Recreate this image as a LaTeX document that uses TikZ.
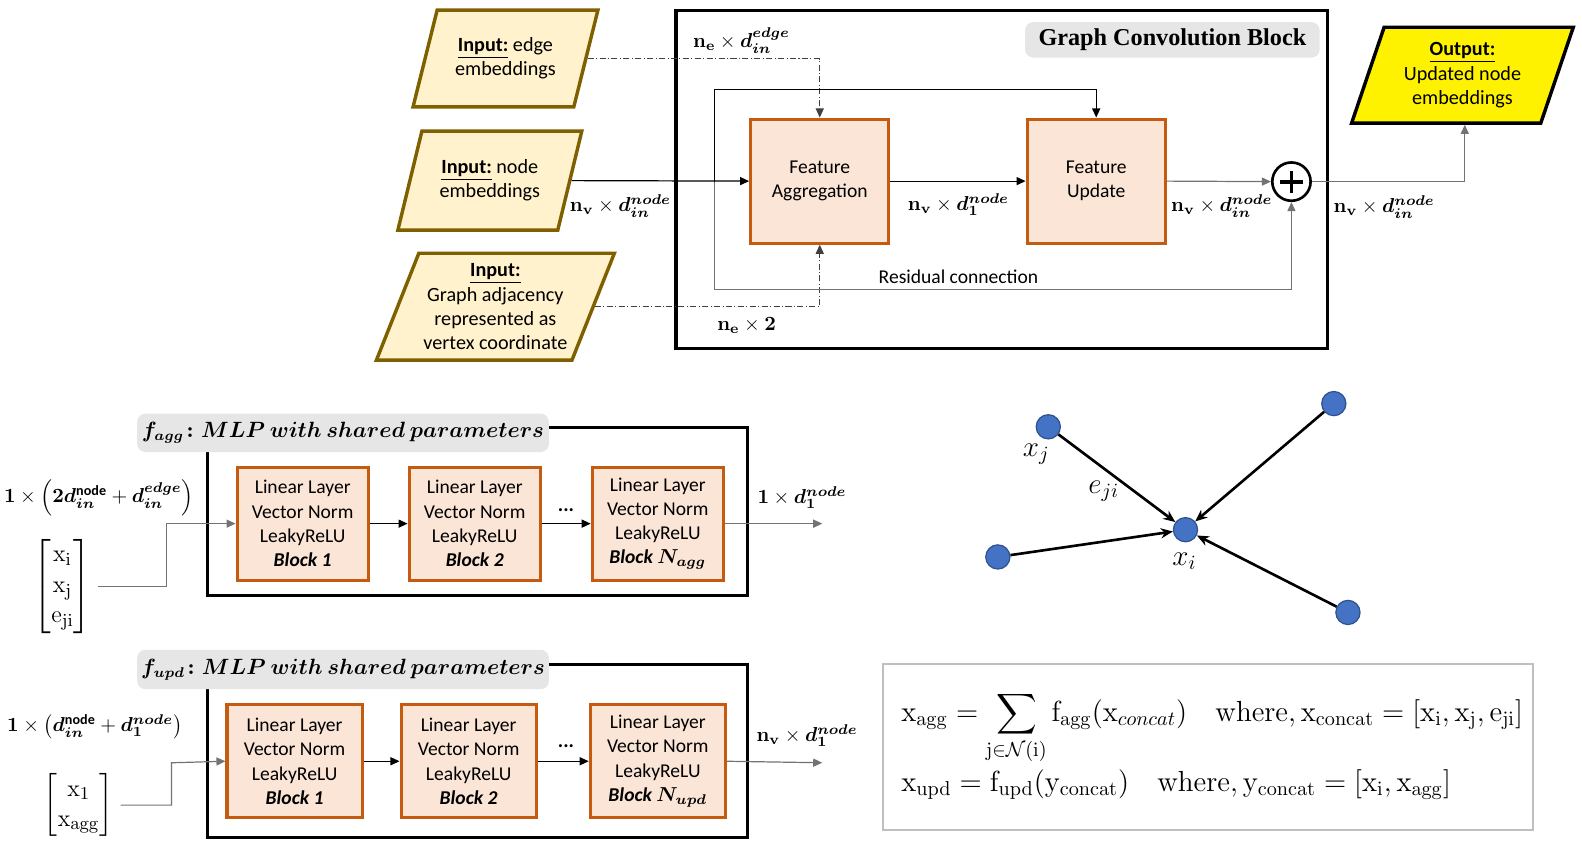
\documentclass[tikz,border=0pt]{standalone}
\usepackage{amsmath,amssymb}
\usepackage{bm}
\usepackage[no-math]{fontspec}
\setmainfont{Carlito}
\newfontfamily\headfont{Liberation Serif}
\usetikzlibrary{shapes.geometric,arrows.meta,positioning,calc}
\definecolor{inborder}{RGB}{127,96,0}
\definecolor{infill}{RGB}{255,242,204}
\definecolor{blkborder}{RGB}{197,90,17}
\definecolor{blkfill}{RGB}{251,229,214}
\definecolor{tagfill}{RGB}{231,230,230}
\definecolor{vtxfill}{RGB}{68,114,196}
\definecolor{vtxborder}{RGB}{47,82,143}

\begin{document}
\begin{tikzpicture}[x=0.5pt, y=-0.5pt,
    inpara/.style={trapezium, trapezium left angle=68, trapezium right angle=112, trapezium stretches=true,
        draw=inborder, fill=infill, line width=1.7pt, align=center, inner sep=1pt, font=\fontsize{10}{12}\selectfont},
    outpara/.style={inpara, fill=yellow, draw=black},
    featbox/.style={rectangle, draw=blkborder, fill=blkfill, line width=1.5pt, minimum width=68.5pt, minimum height=61.5pt,
        align=center, font=\fontsize{9.7}{12}\selectfont},
    mlpbox/.style={featbox, minimum width=65pt, minimum height=56pt},
    frame/.style={rectangle, draw=black, line width=1.5pt, inner sep=0pt},
    tag/.style={rectangle, rounded corners=4pt, fill=tagfill, inner sep=0pt},
    dimlbl/.style={font=\fontsize{10}{12}\selectfont},
    arr/.style={-{Triangle[length=4.5pt,width=4pt]}, line width=0.6pt},
    arrgray/.style={arr, black!55},
    dashdot/.style={-{Triangle[length=4.5pt,width=4pt]}, line width=0.5pt, black!75,
        dash pattern=on 3pt off 1.2pt on 0.5pt off 1.2pt},
    vtx/.style={circle, fill=vtxfill, draw=vtxborder, line width=0.6pt, minimum size=12pt, inner sep=0pt},
    edgearr/.style={-{Stealth[length=6pt,width=5pt]}, line width=1.3pt}
]
    \useasboundingbox (0,0) rectangle (1568,837);

    % Graph convolution block
    \node[frame, minimum width=323pt, minimum height=167.5pt] (gcb) at (993,177.5) {};
    \node[tag, minimum width=146pt, minimum height=17.5pt, font=\headfont\fontsize{12}{14}\selectfont\bfseries] (gcbtag) at (1162,39.5) {Graph Convolution Block};

    % Inputs and output
    \node[inpara, minimum width=92pt, minimum height=48pt] (ein) at (501,58) {\underline{\textbf{Input:}} edge\\embeddings};
    \node[inpara, minimum width=91.5pt, minimum height=49pt] (nin) at (485.5,179) {\underline{\textbf{Input:}} node\\embeddings};
    \node[inpara, trapezium left angle=65.5, trapezium right angle=114.5, minimum width=118pt, minimum height=53pt] (adj) at (491,304)
        {\underline{\textbf{Input:}}\\Graph adjacency\\represented as\\vertex coordinate};
    \node[outpara, trapezium left angle=70, trapezium right angle=110, minimum width=110.5pt, minimum height=47.5pt] (out) at (1449.5,74.5)
        {\underline{\textbf{Output:}}\\Updated node\\embeddings};

    % Feature boxes
    \node[featbox] (fa) at (812.5,179.5) {Feature\\Aggregation};
    \node[featbox] (fu) at (1086.5,179.5) {Feature\\Update};
    \node[circle, draw, line width=1.3pt, minimum size=19pt, inner sep=0pt] (plus) at (1280,180) {};
    \draw[line width=1.9pt] ([xshift=-5.5pt]plus.center) -- ([xshift=5.5pt]plus.center);
    \draw[line width=1.9pt] ([yshift=-5.5pt]plus.center) -- ([yshift=5.5pt]plus.center);
    \coordinate (split) at (708,180);

    % Connections
    \draw[arr] (nin.right side) -- (fa.west);
    \draw[dashdot] (ein.right side) -| (fa.north);
    \draw[dashdot] (adj.right side) -| (fa.south);
    \draw[arr] (split) -- ++(0,-91) -| (fu.north);
    \draw[arrgray] (split) -- ++(0,107) -| (plus.south);
    \draw[arr] (fa.east) -- (fu.west);
    \draw[arrgray] (fu.east) -- (plus.west);
    \draw[arrgray] (plus.east) -| ([xshift=9.5pt]out.bottom side);

    \node[dimlbl] (lein) at (735,40) {$\mathbf{n_e}\times\bm{d_{in}^{edge}}$};
    \node[dimlbl] (ladj) at (740,323) {$\mathbf{n_e}\times\mathbf{2}$};
    \node[dimlbl] (lnin) at (615,204) {$\mathbf{n_v}\times\bm{d_{in}^{node}}$};
    \node[dimlbl] (lfa) at (950,203) {$\mathbf{n_v}\times\bm{d_1^{node}}$};
    \node[dimlbl] (lfu) at (1211,204) {$\mathbf{n_v}\times\bm{d_{in}^{node}}$};
    \node[dimlbl] (lout) at (1372,205) {$\mathbf{n_v}\times\bm{d_{in}^{node}}$};
    \node[font=\fontsize{9.7}{12}\selectfont] (lres) at (950,274) {Residual connection};

    % f_agg MLP
    \node[frame, minimum width=267.5pt, minimum height=83pt] (aggframe) at (473.5,507) {};
    \node[tag, minimum width=204pt, minimum height=19pt, font=\fontsize{10.6}{13}\selectfont] (aggtag) at (340,429)
        {$\bm{f_{agg}\colon MLP\ with\ shared\ parameters}$};
    \foreach \nm/\xx/\tg in {a1/300/1, a2/470.5/2, a3/652/{$\bm{N_{agg}}$}}
        \node[mlpbox] (\nm) at (\xx,519) {Linear Layer\\Vector Norm\\LeakyReLU\\\textbf{\textit{Block \tg}}};
    \draw[arr] (a1) -- (a2);
    \draw[arr] (a2) -- (a3);
    \node (adots) at (561,506) {\textbf{...}};
    \node[font=\fontsize{13}{15}\selectfont] (aggvec) at (62,581)
        {$\begin{bmatrix}\mathrm{x_i}\\ \mathrm{x_j}\\ \mathrm{e_{ji}}\end{bmatrix}$};
    \coordinate (aggin) at (165,519);
    \coordinate (aggout) at (815,519);
    \draw[arrgray] (aggvec.east) -| (aggin) -- (a1.west);
    \draw[arrgray] (a3.east) -- (aggout);
    \node[dimlbl] (laggin) at (98,493) {$\mathbf{1}\times\left(\mathbf{2}\bm{d}_{\bm{in}}^{\textbf{node}}+\bm{d_{in}^{edge}}\right)$};
    \node[dimlbl] (laggout) at (795,493) {$\mathbf{1}\times\bm{d_1^{node}}$};

    % f_upd MLP
    \node[frame, minimum width=267.5pt, minimum height=85.5pt] (updframe) at (473.5,744.5) {};
    \node[tag, minimum width=204pt, minimum height=19.5pt, font=\fontsize{10.6}{13}\selectfont] (updtag) at (340,663.5)
        {$\bm{f_{upd}\colon MLP\ with\ shared\ parameters}$};
    \foreach \nm/\xx/\tg in {u1/292/1, u2/464.5/2, u3/652/{$\bm{N_{upd}}$}}
        \node[mlpbox, minimum width=67pt] (\nm) at (\xx,754.5) {Linear Layer\\Vector Norm\\LeakyReLU\\\textbf{\textit{Block \tg}}};
    \draw[arr] (u1) -- (u2);
    \draw[arr] (u2) -- (u3);
    \node (udots) at (561,740) {\textbf{...}};
    \node[font=\fontsize{13}{15}\selectfont] (updvec) at (78,798)
        {$\begin{bmatrix}\mathrm{x_1}\\ \mathrm{x_{agg}}\end{bmatrix}$};
    \coordinate (updin) at (170,756);
    \coordinate (updout) at (815,756);
    \draw[arrgray] (updvec.east) -| (updin) -- (u1.west);
    \draw[arrgray] (u3.east) -- (updout);
    \node[dimlbl] (lupdin) at (94,720) {$\mathbf{1}\times\left(\bm{d}_{\bm{in}}^{\textbf{node}}+\bm{d_1^{node}}\right)$};
    \node[dimlbl] (lupdout) at (800,729) {$\mathbf{n_v}\times\bm{d_1^{node}}$};

    % Message passing sketch
    \node[vtx] (gj) at (1039,423) {};
    \node[vtx] (gtr) at (1322,400) {};
    \node[vtx] (gi) at (1175,525) {};
    \node[vtx] (gl) at (989,552) {};
    \node[vtx] (gbr) at (1336,607) {};
    \foreach \src in {gj, gtr, gl, gbr}
        \draw[edgearr] (\src) -- (gi);
    \node[font=\fontsize{14}{16}\selectfont] (lxj) at (1027,450) {$x_j$};
    \node[font=\fontsize{14}{16}\selectfont] (leji) at (1094,487) {$e_{ji}$};
    \node[font=\fontsize{14}{16}\selectfont] (lxi) at (1174,556) {$x_i$};

    % Update equations
    \node[rectangle, draw=black!25, line width=1pt, minimum width=322pt, minimum height=82.5pt] (eqbox) at (1197,740.5) {};
    \node[anchor=base west, inner sep=0pt, font=\fontsize{14}{17}\selectfont] (eqagg) at (893,715)
        {$\mathrm{x_{agg}} = \displaystyle\sum_{\mathrm{j}\in\mathcal{N}(\mathrm{i})} \mathrm{f_{agg}}(\mathrm{x}_{concat})\quad
        \mathrm{where,}\,\mathrm{x_{concat}} = \left[\mathrm{x_i},\mathrm{x_j},\mathrm{e_{ji}}\right]$};
    \node[anchor=base west, inner sep=0pt, font=\fontsize{14}{17}\selectfont] (equpd) at (893,784)
        {$\mathrm{x_{upd}} = \mathrm{f_{upd}}(\mathrm{y_{concat}})\quad
        \mathrm{where,}\,\mathrm{y_{concat}} = \left[\mathrm{x_i},\mathrm{x_{agg}}\right]$};
\end{tikzpicture}
\end{document}
